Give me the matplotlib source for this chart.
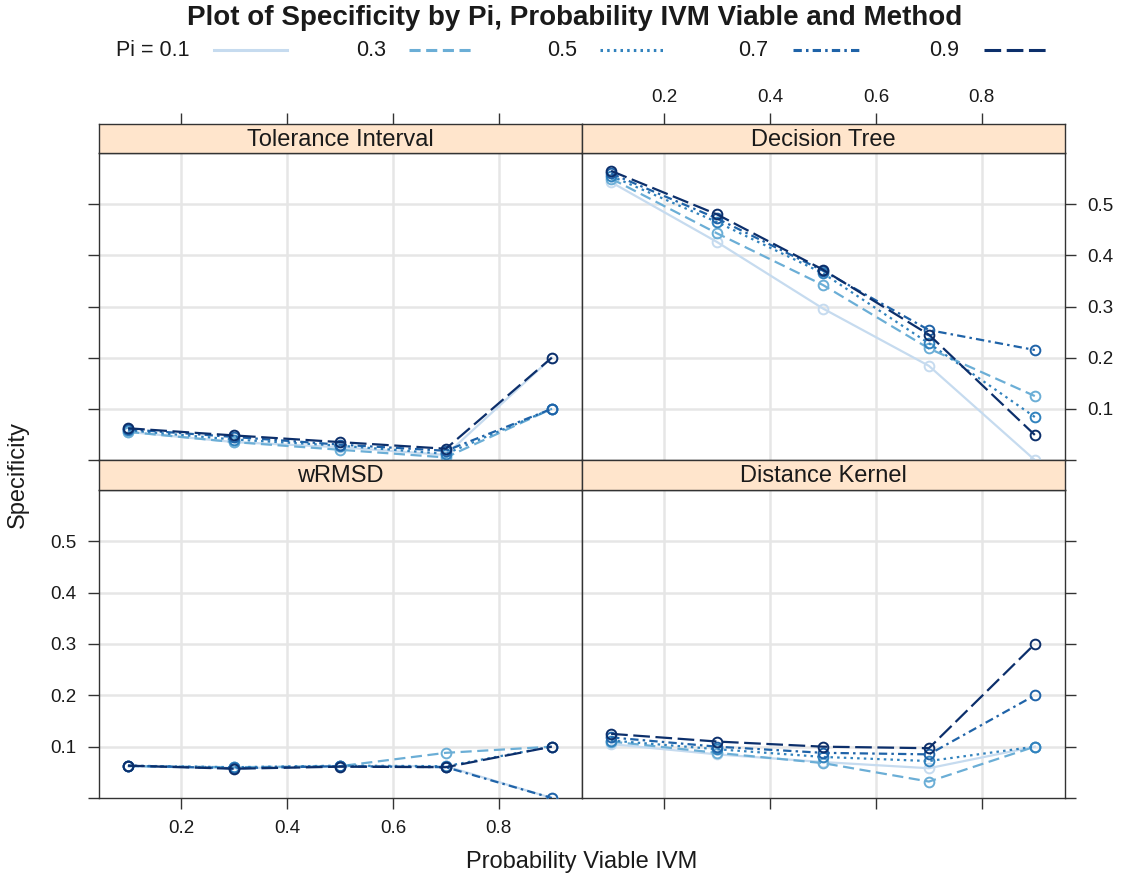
import matplotlib
matplotlib.use('Agg')
import matplotlib.pyplot as plt
from matplotlib.lines import Line2D

plt.rcParams['font.family'] = ['Liberation Sans', 'DejaVu Sans']
plt.rcParams['lines.scale_dashes'] = False

# data
prob_viable = [0.1, 0.3, 0.5, 0.7, 0.9]
pi_levels = ['0.1', '0.3', '0.5', '0.7', '0.9']

tolerance = {
    '0.1': [0.055, 0.035, 0.025, 0.010, 0.200],
    '0.3': [0.055, 0.035, 0.020, 0.005, 0.100],
    '0.5': [0.058, 0.040, 0.028, 0.012, 0.100],
    '0.7': [0.060, 0.045, 0.030, 0.018, 0.100],
    '0.9': [0.062, 0.048, 0.035, 0.022, 0.200],
}
decision_tree = {
    '0.1': [0.543, 0.426, 0.296, 0.184, 0.000],
    '0.3': [0.550, 0.443, 0.342, 0.218, 0.125],
    '0.5': [0.555, 0.465, 0.365, 0.228, 0.084],
    '0.7': [0.560, 0.472, 0.370, 0.254, 0.215],
    '0.9': [0.565, 0.480, 0.372, 0.245, 0.049],
}
wrmsd = {
    '0.1': [0.062, 0.058, 0.062, 0.062, 0.000],
    '0.3': [0.062, 0.060, 0.062, 0.088, 0.100],
    '0.5': [0.063, 0.060, 0.063, 0.062, 0.100],
    '0.7': [0.063, 0.058, 0.062, 0.060, 0.000],
    '0.9': [0.063, 0.057, 0.061, 0.060, 0.100],
}
distance_kernel = {
    '0.1': [0.105, 0.085, 0.070, 0.058, 0.100],
    '0.3': [0.110, 0.088, 0.068, 0.032, 0.100],
    '0.5': [0.112, 0.095, 0.080, 0.072, 0.100],
    '0.7': [0.118, 0.100, 0.088, 0.085, 0.200],
    '0.9': [0.125, 0.110, 0.100, 0.097, 0.300],
}

colors = ['#c6dbef', '#6baed6', '#3182bd', '#1f63a8', '#0c2f6b']
dashes = ['-', (0, (8, 4)), (0, (1.8, 3)), (0, (6, 3, 1.8, 3)), (0, (12, 4))]

W, H = 1122, 882
fig = plt.figure(figsize=(W / 100, H / 100), dpi=100)


def box(x0, y0, x1, y1):
    # pixel box -> figure fraction rect
    return [x0 / W, 1 - y1 / H, (x1 - x0) / W, (y1 - y0) / H]


panels = [
    ('Tolerance Interval', tolerance, (99, 153, 582, 460), 'TL'),
    ('Decision Tree', decision_tree, (582, 153, 1065, 460), 'TR'),
    ('wRMSD', wrmsd, (99, 490, 582, 798), 'BL'),
    ('Distance Kernel', distance_kernel, (582, 490, 1065, 798), 'BR'),
]

xt = [0.2, 0.4, 0.6, 0.8]
yt = [0.0, 0.1, 0.2, 0.3, 0.4, 0.5]
ytl = ['', '0.1', '0.2', '0.3', '0.4', '0.5']
xlim = (0.045, 0.957)
ylim = (0.0, 0.6)

for name, data, (x0, y0, x1, y1), pos in panels:
    ax = fig.add_axes(box(x0, y0, x1, y1))
    st = fig.add_axes(box(x0, y0 - 29 if pos[0] == 'T' else y0 - 30, x1, y0))
    ax.set_xlim(xlim)
    ax.set_ylim(ylim)
    st.set_xlim(xlim)
    st.set_ylim(0, 1)
    st.set_facecolor('#ffe5cc')
    st.text(0.5, 0.45, name, transform=st.transAxes, ha='center', va='center',
            fontsize=17, color='#1a1a1a')

    for v in xt:
        ax.axvline(v, color='#e6e6e6', lw=1.8, zorder=0)
    for v in yt[1:]:
        ax.axhline(v, color='#e6e6e6', lw=1.8, zorder=0)

    for i, pi in enumerate(pi_levels):
        ax.plot(prob_viable, data[pi], color=colors[i], linestyle=dashes[i],
                lw=1.6, marker='o', markersize=7, markerfacecolor='none',
                markeredgewidth=1.4, zorder=3 + i)

    for a in (ax, st):
        for s in a.spines.values():
            s.set_color('#333333')
            s.set_linewidth(1.0)
        a.tick_params(direction='out', length=8, width=1, color='#333333',
                      labelsize=13.5, labelcolor='#1a1a1a')

    st.set_yticks([])
    ax.set_yticks(yt)
    ax.set_xticks(xt)
    ax.xaxis.set_ticks_position('bottom')
    if pos[0] == 'T':
        # top ticks sit above the strip
        ax.tick_params(axis='x', bottom=False, labelbottom=False)
        st.set_xticks(xt)
        st.xaxis.set_ticks_position('top')
        st.tick_params(axis='x', labeltop=(pos == 'TR'), pad=5)
        st.set_xticklabels(['0.2', '0.4', '0.6', '0.8'])
    else:
        st.set_xticks([])
        ax.tick_params(axis='x', labelbottom=(pos == 'BL'), pad=8)
        ax.set_xticklabels(['0.2', '0.4', '0.6', '0.8'])

    if pos[1] == 'L':
        ax.yaxis.set_ticks_position('left')
        ax.tick_params(axis='y', labelleft=(pos == 'BL'), pad=8)
    else:
        ax.yaxis.set_ticks_position('right')
        ax.tick_params(axis='y', labelright=(pos == 'TR'), pad=8)
    ax.set_yticklabels(ytl)

# title and legend
fig.text(575 / W, 1 - 18 / H, 'Plot of Specificity by Pi, Probability IVM Viable and Method',
         ha='center', va='center', fontsize=20, fontweight='bold', color='#1a1a1a')

leg_text = ['Pi = 0.1', '0.3', '0.5', '0.7', '0.9']
text_end = [189, 386, 577, 768, 959]
line_span = [(214, 287), (409, 471), (600, 666), (793, 861), (984, 1050)]
ly = 1 - 50 / H
for i in range(5):
    fig.text(text_end[i] / W, ly, leg_text[i], ha='right', va='center',
             fontsize=15.5, color='#1a1a1a')
    a, b = line_span[i]
    fig.add_artist(Line2D([a / W, b / W], [ly, ly], transform=fig.transFigure,
                          color=colors[i], linestyle=dashes[i], lw=2.2))

fig.text(582 / W, 1 - 862 / H, 'Probability Viable IVM', ha='center', va='center',
         fontsize=17, color='#1a1a1a')
fig.text(18 / W, 1 - 475 / H, 'Specificity', ha='center', va='center',
         rotation=90, fontsize=17, color='#1a1a1a')

fig.savefig('out.png', dpi=100)
